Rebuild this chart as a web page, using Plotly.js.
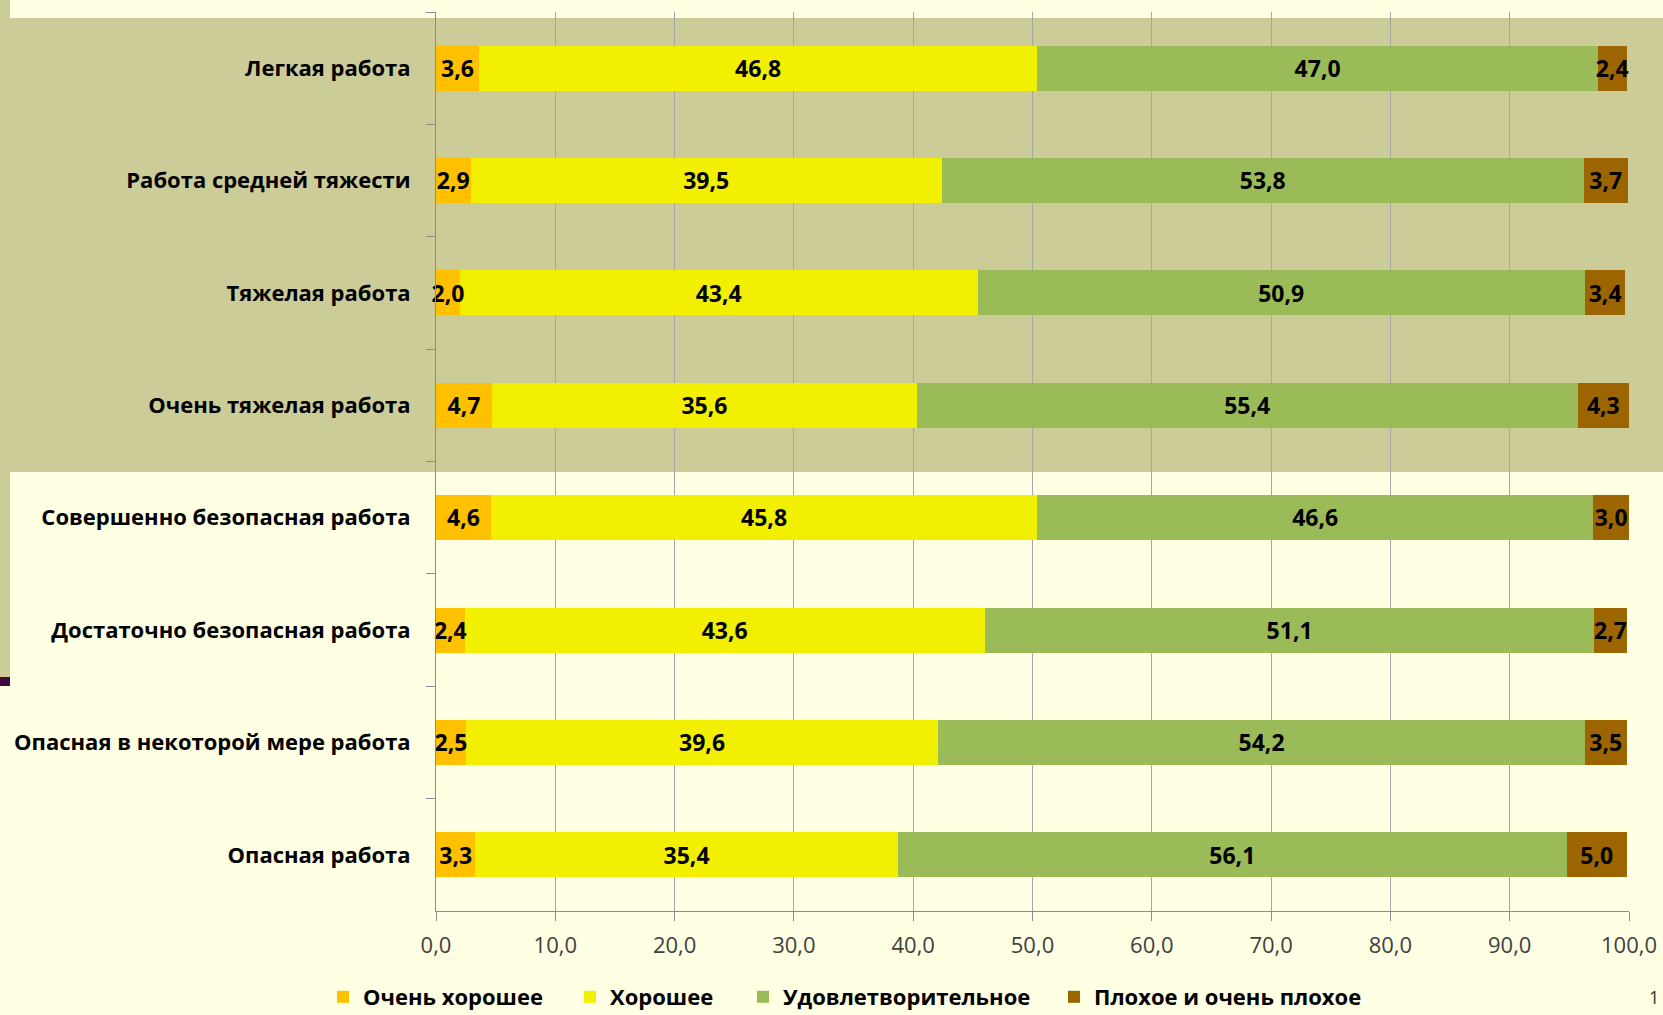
<!DOCTYPE html>
<html><head><meta charset="utf-8">
<script src="https://cdn.plot.ly/plotly-3.0.1.min.js"></script>
<style>html,body{margin:0;padding:0;background:#FFFFE3;overflow:hidden}#chart{width:1663px;height:1015px}</style>
</head><body><div id="chart"></div><script>
// ---- data ----
const categories = ['Легкая работа','Работа средней тяжести','Тяжелая работа','Очень тяжелая работа','Совершенно безопасная работа','Достаточно безопасная работа','Опасная в некоторой мере работа','Опасная работа'];
const seriesNames = ['Очень хорошее','Хорошее','Удовлетворительное','Плохое и очень плохое'];
const veryGood = [3.6,2.9,2.0,4.7,4.6,2.4,2.5,3.3];
const good = [46.8,39.5,43.4,35.6,45.8,43.6,39.6,35.4];
const satisfactory = [47.0,53.8,50.9,55.4,46.6,51.1,54.2,56.1];
const bad = [2.4,3.7,3.4,4.3,3.0,2.7,3.5,5.0];
const xTickValues = [0,10,20,30,40,50,60,70,80,90,100];

// ---- style ----
const W = 1663, H = 1015;
const M = {l:436, r:34, t:12, b:104, autoexpand: false};
const PW = W - M.l - M.r, PH = H - M.t - M.b;
const px = x => (x - M.l) / PW;
const py = y => (H - M.b - y) / PH;
const colors = ['#FFC000','#F2F000','#9BBB59','#9C6500'];
const FONT = 'Open Sans, Arial, sans-serif';
const seriesValues = [veryGood, good, satisfactory, bad];
const legendLeft = [323, 570, 743, 1054];
const n = categories.length;
const labelShift = -3 / (PH / n); // small visual nudge so text sits at bar centre

const barTraces = seriesValues.map((vals, i) => ({
  type: 'bar', orientation: 'h',
  name: seriesNames[i], y: categories, x: vals,
  width: 0.4,
  marker: {color: colors[i], line: {width: 0}},
  legend: i === 0 ? 'legend' : 'legend' + (i + 1),
  hoverinfo: 'x+y+name'
}));

// data labels drawn on top of all bars, centred in each stacked segment
const labelTraces = seriesValues.map((vals, i) => {
  const mid = vals.map((v, k) => {
    let base = 0;
    for (let j = 0; j < i; j++) base += seriesValues[j][k];
    return base + v / 2;
  });
  return {
    type: 'scatter', mode: 'text', x: mid, y: categories.map((c, k) => k), yaxis: 'y2',
    customdata: vals,
    texttemplate: '%{customdata:.1f}', textposition: 'middle center', cliponaxis: false,
    textfont: {family: FONT, size: 23, color: '#000', weight: 700},
    showlegend: false, hoverinfo: 'skip'
  };
});

function legendDef(i) {
  return {orientation: 'h', x: px(legendLeft[i]), xanchor: 'left', y: py(997), yanchor: 'middle',
    bgcolor: 'rgba(0,0,0,0)', borderwidth: 0,
    font: {family: FONT, size: 22, color: '#000', weight: 700}};
}

const layout = {
  width: W, height: H, margin: M,
  paper_bgcolor: '#FFFFE3', plot_bgcolor: 'rgba(0,0,0,0)',
  separators: ', ',
  barmode: 'stack', showlegend: true,
  legend: legendDef(0), legend2: legendDef(1), legend3: legendDef(2), legend4: legendDef(3),
  xaxis: {range: [0, 100], tickmode: 'array', tickvals: xTickValues, tickformat: '.1f',
    ticks: 'outside', ticklen: 9, tickcolor: '#8C8C8C', showline: true, linecolor: '#8C8C8C', linewidth: 1,
    showgrid: true, gridcolor: '#A6A6A6', gridwidth: 1, zeroline: false, automargin: false,
    ticklabelstandoff: 6,
    tickfont: {family: FONT, size: 22, color: '#404040'}},
  yaxis: {type: 'category', range: [n - 0.5, -0.5], tickson: 'boundaries',
    ticks: 'outside', ticklen: 9, tickcolor: '#8C8C8C', showline: true, linecolor: '#8C8C8C', linewidth: 1,
    showgrid: false, zeroline: false, ticklabelstandoff: 20, automargin: false,
    tickfont: {family: FONT, size: 22, color: '#000', weight: 700}},
  yaxis2: {overlaying: 'y', visible: false, range: [n - 0.5 + labelShift, -0.5 + labelShift],
    showgrid: false, zeroline: false, automargin: false},
  shapes: [
    {type: 'rect', layer: 'below', xref: 'paper', yref: 'paper', x0: px(0), x1: px(10), y0: py(0), y1: py(677), fillcolor: '#CCCC99', line: {width: 0}},
    {type: 'rect', layer: 'below', xref: 'paper', yref: 'paper', x0: px(10), x1: px(W), y0: py(18), y1: py(472), fillcolor: '#CCCC99', line: {width: 0}},
    {type: 'rect', layer: 'below', xref: 'paper', yref: 'paper', x0: px(0), x1: px(10), y0: py(677), y1: py(686), fillcolor: '#3F0B3A', line: {width: 0}}
  ],
  annotations: [
    {text: '1', xref: 'paper', yref: 'paper', x: px(1661), y: py(983), xanchor: 'right', yanchor: 'top', showarrow: false,
     font: {family: FONT, size: 18, color: '#333'}}
  ]
};

Plotly.newPlot('chart', barTraces.concat(labelTraces), layout, {displayModeBar: false, staticPlot: true});
</script></body></html>
